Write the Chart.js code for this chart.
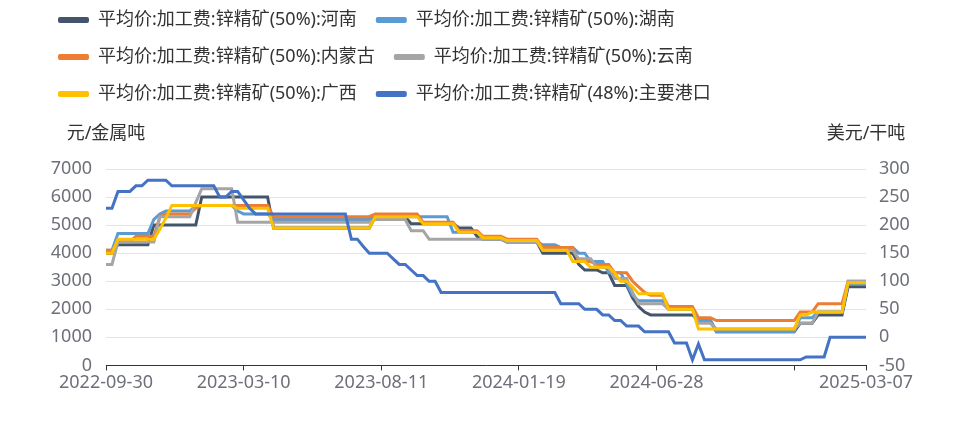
<!DOCTYPE html>
<html lang="zh">
<head>
<meta charset="UTF-8">
<title>锌精矿加工费</title>
<script src="https://cdn.jsdelivr.net/npm/chart.js"></script>
<style>
  html, body { margin: 0; padding: 0; background: #fff; overflow: hidden; }
  .chart-box { position: absolute; left: 0; top: -8px; width: 980px; height: 436px; }
</style>
</head>
<body>
<div class="chart-box"><canvas id="tcChart"></canvas></div>
<script>
const dates = [
  '2022-09-30','2022-10-07','2022-10-14','2022-10-21','2022-10-28','2022-11-04','2022-11-11','2022-11-18','2022-11-25','2022-12-02',
  '2022-12-09','2022-12-16','2022-12-23','2022-12-30','2023-01-06','2023-01-13','2023-01-20','2023-01-27','2023-02-03','2023-02-10',
  '2023-02-17','2023-02-24','2023-03-03','2023-03-10','2023-03-17','2023-03-24','2023-03-31','2023-04-07','2023-04-14','2023-04-21',
  '2023-04-28','2023-05-05','2023-05-12','2023-05-19','2023-05-26','2023-06-02','2023-06-09','2023-06-16','2023-06-21','2023-06-23',
  '2023-06-30','2023-07-07','2023-07-14','2023-07-21','2023-07-28','2023-08-04','2023-08-11','2023-08-18','2023-08-25','2023-09-01',
  '2023-09-08','2023-09-15','2023-09-22','2023-09-29','2023-10-06','2023-10-13','2023-10-20','2023-10-27','2023-11-03','2023-11-10',
  '2023-11-17','2023-11-24','2023-12-01','2023-12-08','2023-12-15','2023-12-22','2023-12-29','2024-01-05','2024-01-12','2024-01-19',
  '2024-01-26','2024-02-02','2024-02-09','2024-02-16','2024-02-23','2024-03-01','2024-03-08','2024-03-15','2024-03-22','2024-03-29',
  '2024-04-05','2024-04-12','2024-04-19','2024-04-26','2024-05-03','2024-05-10','2024-05-17','2024-05-24','2024-05-31','2024-06-07',
  '2024-06-14','2024-06-21','2024-06-28','2024-07-05','2024-07-12','2024-07-19','2024-07-26','2024-08-02','2024-08-09','2024-08-16',
  '2024-08-23','2024-08-30','2024-09-06','2024-09-13','2024-09-20','2024-09-27','2024-10-11','2024-10-18','2024-10-25','2024-11-01',
  '2024-11-08','2024-11-15','2024-11-22','2024-11-29','2024-12-06','2024-12-13','2024-12-20','2024-12-27','2025-01-03','2025-01-10',
  '2025-01-17','2025-01-24','2025-01-31','2025-02-07','2025-02-14','2025-02-21','2025-02-28','2025-03-07'
];

// 元/金属吨
const henan = [
  4000,4000,4300,4300,4300,4300,4300,4300,5000,5000,
  5000,5000,5000,5000,5000,5000,6000,6000,6000,6000,
  6000,6000,6000,6000,6000,6000,6000,6000,4900,4900,
  4900,4900,4900,4900,4900,4900,4900,4900,4900,4900,
  4900,4900,4900,4900,4900,5300,5300,5300,5300,5300,
  5300,5050,5050,5050,5050,5050,5050,5050,5050,4900,
  4900,4900,4600,4500,4500,4500,4500,4400,4400,4400,
  4400,4400,4400,4000,4000,4000,4000,4000,4000,3600,
  3400,3400,3400,3300,3300,2850,2850,2850,2400,2100,
  1900,1800,1800,1800,1800,1800,1800,1800,1800,1600,
  1600,1600,1200,1200,1200,1200,1200,1200,1200,1200,
  1200,1200,1200,1200,1200,1200,1500,1500,1500,1800,
  1800,1800,1800,1800,2800,2800,2800,2800
];
const hunan = [
  4100,4100,4700,4700,4700,4700,4700,4700,5200,5400,
  5500,5500,5500,5500,5500,5700,5700,5700,5700,5700,
  5700,5700,5500,5400,5400,5400,5400,5400,5200,5200,
  5200,5200,5200,5200,5200,5200,5200,5200,5200,5200,
  5200,5200,5200,5200,5200,5300,5300,5300,5300,5300,
  5300,5300,5300,5300,5300,5300,5300,5300,4750,4750,
  4750,4750,4750,4500,4500,4500,4500,4400,4400,4400,
  4400,4400,4400,4300,4300,4300,4200,4200,4200,4000,
  4000,3700,3700,3700,3300,3300,3300,2900,2500,2300,
  2300,2300,2300,2300,2000,2000,2000,2000,2000,1600,
  1600,1600,1200,1200,1200,1200,1200,1200,1200,1200,
  1200,1200,1200,1200,1200,1200,1700,1700,1700,1900,
  1900,1900,1900,1900,2900,2900,2900,2900
];
const neimenggu = [
  4100,4100,4400,4400,4400,4600,4600,4600,4600,5300,
  5400,5400,5400,5400,5400,5600,5700,5700,5700,5700,
  5700,5700,5700,5700,5700,5700,5700,5700,5300,5300,
  5300,5300,5300,5300,5300,5300,5300,5300,5300,5300,
  5300,5300,5300,5300,5300,5400,5400,5400,5400,5400,
  5400,5400,5400,5100,5100,5100,5100,5100,5100,4800,
  4800,4800,4800,4600,4600,4600,4600,4500,4500,4500,
  4500,4500,4500,4200,4200,4200,4200,4200,4200,3700,
  3700,3700,3600,3600,3600,3300,3300,3300,3000,2800,
  2600,2500,2500,2500,2100,2100,2100,2100,2100,1700,
  1700,1700,1600,1600,1600,1600,1600,1600,1600,1600,
  1600,1600,1600,1600,1600,1600,1900,1900,1900,2200,
  2200,2200,2200,2200,3000,3000,3000,3000
];
const yunnan = [
  3600,3600,4400,4400,4400,4400,4400,4400,4400,5300,
  5300,5300,5300,5300,5300,5800,6300,6300,6300,6300,
  6300,6300,5100,5100,5100,5100,5100,5100,5100,5100,
  5100,5100,5100,5100,5100,5100,5100,5100,5100,5100,
  5100,5100,5100,5100,5100,5200,5200,5200,5200,5200,
  5200,4800,4800,4800,4500,4500,4500,4500,4500,4500,
  4500,4500,4500,4500,4500,4500,4500,4400,4400,4400,
  4400,4400,4400,4100,4100,4100,4100,4100,4100,3800,
  3800,3800,3500,3500,3500,3100,3100,3100,2600,2200,
  2200,2200,2200,2200,2000,2000,2000,2000,2000,1500,
  1500,1500,1300,1300,1300,1300,1300,1300,1300,1300,
  1300,1300,1300,1300,1300,1300,1500,1500,1500,1900,
  1900,1900,1900,1900,3000,3000,3000,3000
];
const guangxi = [
  4000,4000,4500,4500,4500,4500,4500,4500,4500,4850,
  5250,5700,5700,5700,5700,5700,5700,5700,5700,5700,
  5700,5700,5600,5600,5600,5600,5600,5600,4900,4900,
  4900,4900,4900,4900,4900,4900,4900,4900,4900,4900,
  4900,4900,4900,4900,4900,5300,5300,5300,5300,5300,
  5300,5300,5300,5050,5050,5050,5050,5050,5050,4750,
  4750,4750,4750,4550,4550,4550,4550,4450,4450,4450,
  4450,4450,4450,4100,4100,4100,4100,4100,3700,3700,
  3700,3500,3500,3500,3500,3300,3000,3000,2800,2550,
  2550,2550,2550,2550,2000,2000,2000,2000,2000,1300,
  1300,1300,1300,1300,1300,1300,1300,1300,1300,1300,
  1300,1300,1300,1300,1300,1300,1800,1800,1900,1900,
  1900,1900,1900,1900,2950,2950,2950,2950
];
// 美元/干吨 (右轴)
const port = [
  230,230,260,260,260,270,270,280,280,280,
  280,270,270,270,270,270,270,270,270,250,
  250,260,260,245,230,220,220,220,220,220,
  220,220,220,220,220,220,220,220,220,220,
  220,175,175,162,150,150,150,150,140,130,
  130,120,110,110,100,100,80,80,80,80,
  80,80,80,80,80,80,80,80,80,80,
  80,80,80,80,80,80,60,60,60,60,
  50,50,50,40,40,30,30,20,20,20,
  10,10,10,10,10,-10,-10,-10,-40,-12,
  -40,-40,-40,-40,-40,-40,-40,-40,-40,-40,
  -40,-40,-40,-40,-40,-40,-40,-35,-35,-35,
  -35,0,0,0,0,0,0,0
];

const seriesNames = [
  '平均价:加工费:锌精矿(50%):河南',
  '平均价:加工费:锌精矿(50%):湖南',
  '平均价:加工费:锌精矿(50%):内蒙古',
  '平均价:加工费:锌精矿(50%):云南',
  '平均价:加工费:锌精矿(50%):广西',
  '平均价:加工费:锌精矿(48%):主要港口'
];
const colors = ['#44546A', '#5B9BD5', '#ED7D31', '#A5A5A5', '#FFC000', '#4472C4'];
const xTickIdx = [0, 23, 46, 69, 92, 115, 127];
const xLabelIdx = [0, 23, 46, 69, 92, 127];

const FONT = '"Noto Sans", "Noto Sans CJK SC", sans-serif';

const axisTitles = {
  id: 'axisTitles',
  afterDraw(chart) {
    const { ctx, chartArea } = chart;
    ctx.save();
    ctx.font = '18px ' + FONT;
    ctx.fillStyle = '#333';
    ctx.textBaseline = 'middle';
    ctx.textAlign = 'center';
    ctx.fillText('元/金属吨', chartArea.left, chartArea.top - 35);
    ctx.fillText('美元/干吨', chartArea.right, chartArea.top - 35);
    ctx.restore();
  }
};

// room between legend and plot for the unit titles
const legendSpace = {
  id: 'legendSpace',
  beforeInit(chart) {
    const fit = chart.legend.fit;
    chart.legend.fit = function () {
      fit.call(this);
      this.height += 56;
    };
  }
};

const allData = [henan, hunan, neimenggu, yunnan, guangxi, port];

new Chart(document.getElementById('tcChart'), {
  type: 'line',
  data: {
    labels: dates,
    datasets: allData.map((d, i) => ({
      label: seriesNames[i],
      data: d,
      borderColor: colors[i],
      backgroundColor: colors[i],
      borderWidth: 3,
      pointRadius: 0,
      tension: 0,
      yAxisID: i === 5 ? 'y1' : 'y',
      order: 6 - i
    }))
  },
  options: {
    responsive: true,
    maintainAspectRatio: false,
    animation: false,
    layout: { padding: { left: 39, right: 54, top: 0, bottom: 32 } },
    plugins: {
      tooltip: { enabled: false },
      legend: {
        position: 'top',
        align: 'start',
        labels: {
          font: { family: FONT, size: 18 },
          color: '#333',
          boxWidth: 31,
          boxHeight: 6,
          padding: 19,
          sort: (a, b) => a.datasetIndex - b.datasetIndex,
          generateLabels(chart) {
            const items = Chart.defaults.plugins.legend.labels.generateLabels(chart);
            items.forEach(it => { it.lineWidth = 0; it.borderRadius = 2; });
            return items;
          }
        }
      }
    },
    scales: {
      x: {
        type: 'category',
        offset: false,
        afterBuildTicks(axis) {
          axis.ticks = xTickIdx.map(v => ({ value: v }));
        },
        border: { display: true, color: '#333', width: 1 },
        grid: { display: true, drawOnChartArea: false, tickLength: 5, tickColor: '#333' },
        ticks: {
          autoSkip: false,
          maxRotation: 0,
          padding: 2,
          color: '#6E7079',
          font: { family: FONT, size: 18 },
          callback(v) { return xLabelIdx.includes(v) ? this.getLabelForValue(v) : ''; }
        }
      },
      y: {
        position: 'left',
        min: 0,
        max: 7000,
        afterFit(scale) { scale.width = 67; },
        border: { display: false },
        grid: { color: '#E0E6F1', drawTicks: false },
        ticks: {
          stepSize: 1000, padding: 14, color: '#6E7079', font: { family: FONT, size: 18 },
          callback: v => String(v)
        }
      },
      y1: {
        position: 'right',
        min: -50,
        max: 300,
        afterFit(scale) { scale.width = 60; },
        border: { display: false },
        grid: { display: false, drawTicks: false },
        ticks: {
          stepSize: 50, padding: 13, color: '#6E7079', font: { family: FONT, size: 18 },
          callback: v => String(v)
        }
      }
    }
  },
  plugins: [axisTitles, legendSpace]
});
</script>
</body>
</html>
